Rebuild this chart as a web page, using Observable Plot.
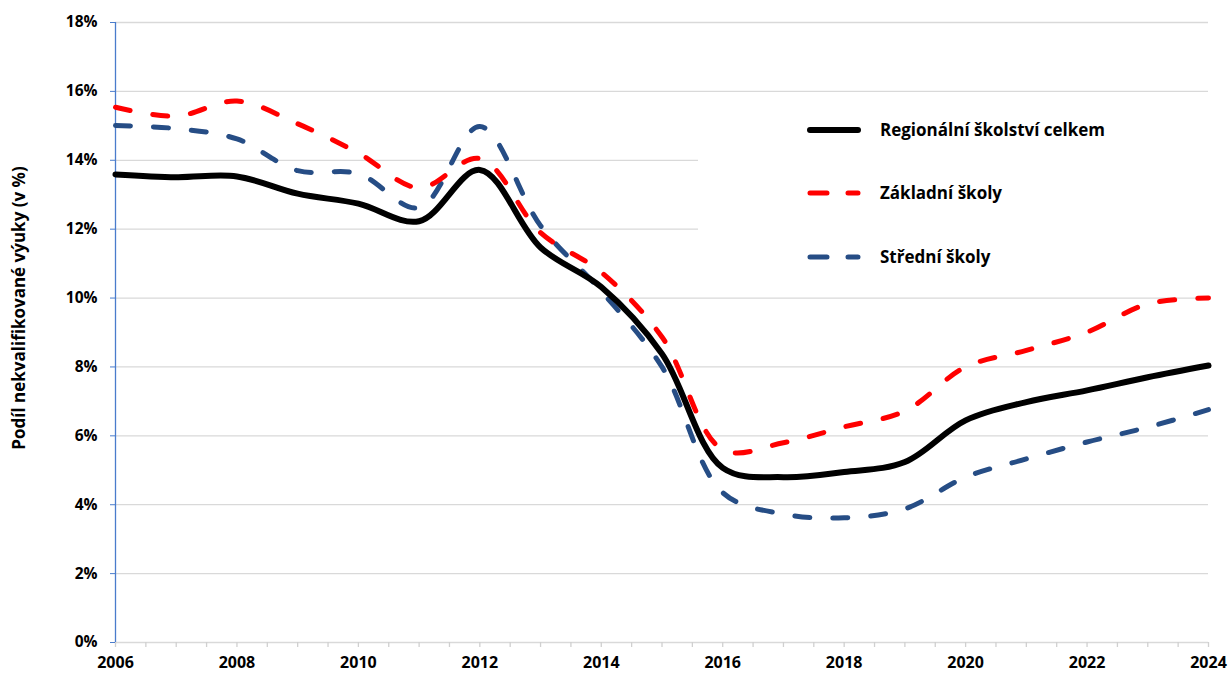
<!DOCTYPE html>
<html>
<head>
<meta charset="utf-8">
<script src="https://cdn.jsdelivr.net/npm/d3@7"></script>
<script src="https://cdn.jsdelivr.net/npm/@observablehq/plot@0.6"></script>
<style>
  html, body { margin: 0; padding: 0; background: #fff; }
  #wrap { position: relative; width: 1228px; height: 675px; font-family: "Open Sans", "Noto Sans", sans-serif; }
  #legend { position: absolute; left: 698px; top: 100px; width: 515px; height: 188px; background: #fff; }
  #legend svg { position: absolute; left: 0; top: 0; }
  #ytitle { position: absolute; left: 18px; top: 308px; transform: translate(-50%, -50%) rotate(-90deg); white-space: nowrap;
            font-weight: 700; font-size: 17px; color: #000; }
</style>
</head>
<body>
<div id="wrap">
  <div id="chart"></div>
  <div id="ytitle">Podíl nekvalifikované výuky (v %)</div>
  <div id="legend"></div>
</div>
<script>
const years = d3.range(2006, 2025);
const celkem = [13.59, 13.51, 13.53, 13.03, 12.74, 12.23, 13.72, 11.47, 10.32, 8.38, 5.07, 4.8, 4.95, 5.24, 6.45, 6.98, 7.32, 7.70, 8.04];
const zakladni = [15.54, 15.28, 15.72, 15.06, 14.21, 13.2, 14.05, 11.9, 10.75, 8.87, 5.6, 5.8, 6.26, 6.72, 8.0, 8.48, 9.01, 9.83, 10.0];
const stredni = [15.01, 14.92, 14.62, 13.70, 13.61, 12.62, 14.98, 12.1, 10.2, 8.0, 4.35, 3.73, 3.62, 3.88, 4.8, 5.33, 5.82, 6.25, 6.76];
const seriesNames = ["Regionální školství celkem", "Základní školy", "Střední školy"];
const seriesColors = ["#000000", "#ff0000", "#264d85"];
const yTicks = d3.range(0, 19, 2);
const xLabelTicks = d3.range(2006, 2025, 2);
const xMinorTicks = d3.range(2006, 2024.01, 0.5);

const rows = (vals) => years.map((y, i) => ({year: y, v: vals[i]}));
const dash = "15,23";

const chart = Plot.plot({
  width: 1228,
  height: 675,
  marginLeft: 115,
  marginRight: 20,
  marginTop: 22,
  marginBottom: 33,
  style: {fontFamily: "'Open Sans', 'Noto Sans', sans-serif", background: "#fff"},
  x: {domain: [2006, 2024]},
  y: {domain: [0, 18]},
  marks: [
    Plot.ruleY(yTicks.filter(d => d > 0), {stroke: "#d9d9d9", strokeWidth: 1.3}),
    Plot.ruleY([0], {stroke: "#d9d9d9", strokeWidth: 1.3}),
    Plot.axisX({ticks: xMinorTicks, tickSize: 5, tickFormat: () => "", stroke: "#d0d0d0", strokeWidth: 1.3, label: null}),
    Plot.axisX({ticks: xLabelTicks, tickSize: 0, tickPadding: 14, tickFormat: d => String(d),
                fontSize: 16, fontWeight: 700, fill: "#000", label: null}),
    Plot.axisY({ticks: yTicks, tickSize: 5, tickPadding: 13, tickFormat: d => d + "%",
                fontSize: 15.5, fontWeight: 700, fill: "#000", stroke: "#4a7ccc", label: null}),
    Plot.ruleX([2006], {stroke: "#4a7ccc", strokeWidth: 1.3}),
    Plot.line(rows(stredni), {x: "year", y: "v", stroke: seriesColors[2], strokeWidth: 5, strokeDasharray: dash, strokeLinecap: "round", curve: "catmull-rom"}),
    Plot.line(rows(zakladni), {x: "year", y: "v", stroke: seriesColors[1], strokeWidth: 5, strokeDasharray: dash, strokeLinecap: "round", curve: "catmull-rom"}),
    Plot.line(rows(celkem), {x: "year", y: "v", stroke: seriesColors[0], strokeWidth: 6, strokeLinecap: "round", curve: "catmull-rom"})
  ]
});
document.getElementById("chart").appendChild(chart);

// legend
const lg = d3.select("#legend").append("svg").attr("width", 515).attr("height", 188);
const ys = [30, 93, 157];
seriesNames.forEach((name, i) => {
  const l = lg.append("line").attr("x1", 112).attr("x2", 160).attr("y1", ys[i]).attr("y2", ys[i])
    .attr("stroke", seriesColors[i]).attr("stroke-width", i === 0 ? 6 : 5).attr("stroke-linecap", "round");
  if (i > 0) l.attr("stroke-dasharray", "17,21");
  lg.append("text").attr("x", 182).attr("y", ys[i]).attr("dy", "0.35em")
    .attr("font-family", "'Open Sans', 'Noto Sans', sans-serif").attr("font-weight", 700).attr("font-size", 17)
    .attr("fill", "#000").text(name);
});
</script>
</body>
</html>
